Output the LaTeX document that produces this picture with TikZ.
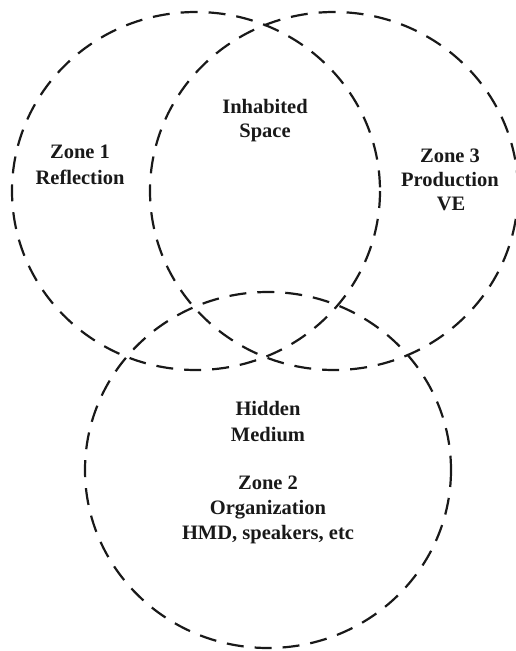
\documentclass[tikz,border=0pt]{standalone}
\usepackage{fontspec}
\setmainfont{Liberation Serif}
\begin{document}
\begin{tikzpicture}[x=1pt,y=-1pt,
  zone/.style={draw=black!90, line width=2.2pt, dash pattern=on 17pt off 11pt},
  lbl/.style={anchor=base, inner sep=0pt, font=\fontsize{20.5}{25}\selectfont\bfseries, text=black!90}]
\useasboundingbox (0,0) rectangle (515,651);
\draw[zone] (196,191) ellipse [x radius=184, y radius=179];
\draw[zone] (334,191) ellipse [x radius=184, y radius=179];
\draw[zone] (268,470) ellipse [x radius=183, y radius=178];
\node[lbl] (z1a) at (80,158) {Zone 1};
\node[lbl] (z1b) at (80,184) {Reflection};
\node[lbl] (isa) at (265,113) {Inhabited};
\node[lbl] (isb) at (265,137) {Space};
\node[lbl] (z3a) at (450,162) {Zone 3};
\node[lbl] (z3b) at (450,186) {Production};
\node[lbl] (z3c) at (451,210) {VE};
\node[lbl] (hma) at (268,415) {Hidden};
\node[lbl] (hmb) at (268,441) {Medium};
\node[lbl] (z2a) at (268,489) {Zone 2};
\node[lbl] (z2b) at (268,514) {Organization};
\node[lbl] (z2c) at (268,539) {HMD, speakers, etc};
\end{tikzpicture}
\end{document}
